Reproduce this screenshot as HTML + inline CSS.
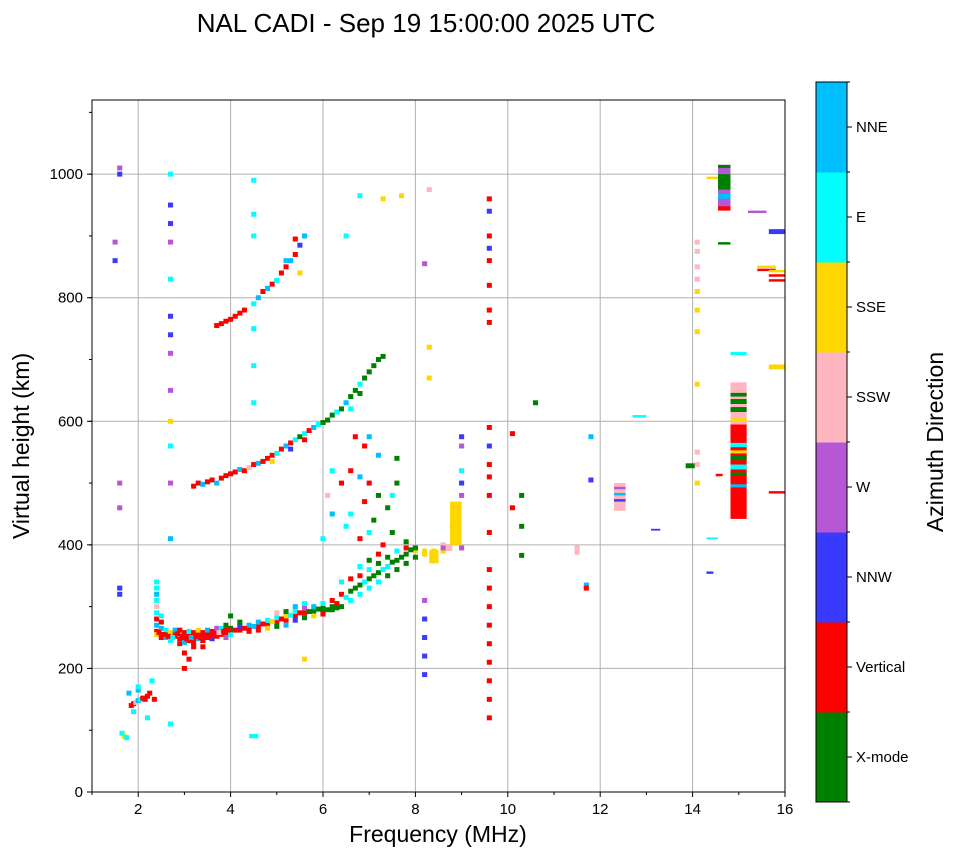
<!DOCTYPE html>
<html><head><meta charset="utf-8">
<style>
body{margin:0;background:#fff;}
svg text{font-family:"Liberation Sans",sans-serif;}
</style></head>
<body>
<svg id="chart" width="958" height="857" viewBox="0 0 958 857" xmlns="http://www.w3.org/2000/svg">
<text x="426" y="32" font-size="26" text-anchor="middle">NAL CADI - Sep 19 15:00:00 2025 UTC</text>
<g id="grid"></g>
<g id="marks"></g>
<rect x="92" y="100" width="693" height="692" fill="none" stroke="#000" stroke-width="1"/>
<g id="axes"></g>
<text x="438" y="842" font-size="23" text-anchor="middle">Frequency (MHz)</text>
<text transform="translate(29,446) rotate(-90)" font-size="23" text-anchor="middle">Virtual height (km)</text>
<g id="cbar"></g>
<text transform="translate(943,442) rotate(-90)" font-size="23" text-anchor="middle">Azimuth Direction</text>
</svg>
<script>
const dirLabels=["X-mode","Vertical","NNW","W","SSW","SSE","E","NNE"];
const dirColors=["#008000","#ff0000","#3a3aff","#b657d6","#ffb6c1","#ffd700","#00ffff","#00bfff"];
const xTicks=[2,4,6,8,10,12,14,16];
const yTicks=[0,200,400,600,800,1000];
// echo cells: frequency (MHz), height (km), direction index
const eF=[1.85,1.9,1.95,2.0,2.05,2.1,2.15,2.2,2.25,2.0,1.7,1.65,1.75,2.3,2.35,
2.4,2.4,2.4,2.4,2.4,2.4,2.4,2.4,2.4,2.4,2.5,2.5,2.5,2.5,2.6,2.6,2.6,2.7,2.7,2.7,2.8,2.8,2.8,2.9,2.9,2.9,2.9,
3.0,3.0,3.0,3.0,3.0,3.1,3.1,3.1,3.1,3.2,3.2,3.2,3.2,3.3,3.3,3.3,3.4,3.4,3.4,3.4,3.5,3.5,3.5,3.6,3.6,3.6,3.7,3.7,3.7,
3.8,3.8,3.8,3.9,3.9,3.9,3.9,4.0,4.0,4.0,4.0,4.2,4.2,4.2,4.4,4.4,4.4,4.6,4.6,4.6,4.8,4.8,4.8,5.0,5.0,5.0,5.0,
5.2,5.2,5.2,5.2,5.4,5.4,5.4,5.4,5.6,5.6,5.6,5.6,5.8,5.8,5.8,6.0,6.0,6.0,6.0,6.2,6.2,6.2,6.4,6.4,6.4,6.6,6.6,6.6,
6.8,6.8,6.8,6.8,7.0,7.0,7.0,7.0,7.2,7.2,7.2,7.2,7.4,7.4,7.4,7.6,7.6,7.6,7.8,7.8,7.8,8.0,8.0,8.0,8.2,8.2,8.4,8.4,8.4,
8.6,8.6,8.6,8.8,9.0,9.0,9.0,9.0,9.0,9.0,
3.2,3.3,3.4,3.5,3.6,3.7,3.8,3.9,4.0,4.1,4.2,4.3,4.4,4.5,4.6,4.7,4.8,4.9,5.0,5.1,5.2,5.3,5.4,5.5,5.6,5.7,5.8,5.9,
6.0,6.1,6.2,6.3,6.4,6.5,6.6,6.7,6.8,6.9,7.0,7.1,7.2,7.3,5.3,5.6,4.9,6.6,6.8,
3.7,3.8,3.9,4.0,4.1,4.2,4.3,4.5,4.6,4.7,4.8,4.9,5.0,5.1,5.2,5.3,5.4,5.5,5.6,5.4,5.2,5.5,
6.2,6.4,6.6,6.8,7.0,7.2,6.6,6.9,7.1,7.4,7.6,7.5,6.5,6.8,7.0,7.3,6.2,6.0,6.9,7.2,7.6,6.7,7.0,7.5,7.8,6.1,
1.6,1.6,1.6,1.6,1.6,1.6,1.5,1.5,2.7,2.7,2.7,2.7,2.7,2.7,2.7,2.7,2.7,2.7,2.7,2.7,2.7,2.7,
9.6,9.6,9.6,9.6,9.6,9.6,9.6,9.6,9.6,9.6,9.6,9.6,9.6,9.6,9.6,9.6,9.6,9.6,9.6,9.6,9.6,9.6,9.6,
14.1,14.1,14.1,14.1,14.1,14.1,14.1,14.1,14.1,14.1,14.1,
11.8,11.8,11.5,11.5,11.7,11.7,10.6,10.3,10.3,10.3,10.1,10.1,8.3,7.7,7.3,6.8,6.5,4.5,4.5,4.5,4.5,4.5,4.5,5.6,
8.2,8.2,8.2,8.2,8.2,8.2,8.3,8.3,1.9,2.0,1.8,2.2,
4.1,4.3,4.5,4.7,4.9,5.1,5.3,5.5,5.7,5.9,6.1,6.3,6.3,6.5,6.7,6.9,7.1,7.3,7.5,7.7,7.9,
2.45,2.55,2.65,2.75,2.85,2.95,3.05,3.15,3.25,3.35,3.45,3.55,3.65,3.75,3.85,3.95];
const eH=[140,143,145,148,150,152,150,155,160,165,90,95,88,180,150,
260,270,280,290,300,310,320,330,340,255,250,265,275,285,255,262,250,250,258,245,252,258,262,248,255,262,240,
250,258,242,225,200,252,245,260,215,250,258,242,235,255,248,262,250,258,245,235,255,262,250,255,260,248,258,265,252,
260,255,265,258,262,270,250,260,265,285,255,262,268,275,265,270,260,268,275,262,270,278,265,275,282,268,290,
278,285,292,270,285,292,278,300,290,298,282,305,292,300,285,292,298,305,288,295,300,310,300,320,340,310,325,345,
320,335,350,365,330,345,360,375,340,355,370,385,350,365,380,360,375,390,370,385,395,380,390,395,385,390,380,390,375,
390,400,395,430,395,480,500,520,560,575,
495,500,498,502,505,500,508,512,515,518,522,520,525,530,532,535,540,545,548,555,560,565,570,575,580,585,590,595,
598,602,610,615,620,630,640,650,660,670,680,690,700,705,555,570,535,620,645,
755,758,762,765,770,775,780,790,800,810,815,822,828,840,850,860,870,885,900,895,860,840,
520,500,520,510,500,480,450,470,440,460,500,420,430,410,420,400,450,410,560,545,540,575,575,480,405,480,
1010,1000,500,460,330,320,890,860,1000,950,920,890,830,770,740,710,650,600,560,500,410,110,
960,940,900,880,860,820,780,760,590,560,530,510,480,420,360,330,300,270,240,210,180,150,120,
890,875,850,830,810,780,745,660,550,530,500,
575,505,395,388,335,330,630,480,430,383,580,460,975,965,960,965,900,990,900,935,750,690,630,215,
310,280,250,220,190,855,720,670,130,170,160,120,
262,265,268,272,276,280,286,290,292,296,295,298,305,315,330,340,350,360,372,380,392,
258,255,252,250,256,252,248,250,252,250,254,252,256,258,260,262];
const eD=[1,1,4,7,6,1,1,1,1,7,5,6,6,6,1,
1,7,1,6,4,6,7,6,6,5,1,7,1,6,1,6,7,1,5,6,1,1,7,1,4,1,1,
1,1,7,1,1,1,1,6,1,1,1,1,1,1,7,5,1,1,1,1,1,7,1,1,1,2,1,3,1,
1,1,6,1,1,0,3,1,0,0,6,1,2,0,1,7,1,1,7,1,1,6,5,1,6,0,4,
1,5,0,7,1,6,2,7,1,3,0,6,0,7,5,0,0,6,1,0,0,1,0,1,6,6,0,1,
6,0,1,6,6,0,6,0,6,0,0,1,0,6,0,0,0,6,0,0,1,0,5,0,5,5,5,5,5,
5,4,3,5,3,3,2,6,3,2,
1,1,7,1,1,7,1,1,1,1,7,1,4,1,7,1,1,1,6,1,7,1,6,0,6,1,7,6,
0,0,0,6,0,7,0,0,6,0,0,0,0,0,2,1,5,6,0,
1,1,1,1,1,1,1,6,7,1,7,1,6,1,1,7,1,2,7,1,7,5,
6,1,1,7,1,0,6,1,0,0,0,0,6,1,6,1,7,6,1,7,0,1,7,6,0,4,
3,2,3,3,2,2,3,2,6,2,2,3,6,2,2,3,3,5,6,3,7,6,
1,2,1,2,1,1,1,1,1,2,1,1,1,1,1,1,1,1,1,1,1,1,1,
4,4,4,4,5,5,5,5,4,4,5,
7,2,4,4,7,1,0,0,0,0,1,1,4,5,5,6,6,6,6,6,6,6,6,5,
3,2,2,2,2,3,5,5,6,6,7,6,
1,1,7,1,5,1,6,1,0,0,0,0,1,6,0,6,0,6,0,0,0,
1,1,1,6,1,1,1,7,1,1,1,1,1,4,1,1];
// bands: fStart, fEnd, hStart, hEnd (MHz/km), direction
const bF0=[14.55,14.55,14.55,14.55,14.55,14.82,14.82,14.82,14.82,14.82,14.82,14.82,14.82,14.82,14.82,14.82,14.82,14.82,12.3,12.3,12.3,12.3,15.4,15.4,15.65,15.2,15.65,15.65,15.65,15.65,15.65,14.3,14.55,14.82,12.7,13.85,14.5,14.3,14.3,13.1,4.4,8.75,8.55,8.3];
const bF1=[14.82,14.82,14.82,14.82,14.82,15.17,15.17,15.17,15.17,15.17,15.17,15.17,15.17,15.17,15.17,15.17,15.17,15.17,12.55,12.55,12.55,12.55,15.8,15.8,16,15.6,16,16,16,16,16,14.55,14.82,15.17,13.0,14.05,14.65,14.55,14.45,13.3,4.6,9.0,8.8,8.5];
const bH0=[945,975,960,941,1010,442,595,640,628,615,600,558,548,537,522,512,502,493,455,470,480,490,848,843,903,937,684,483,834,826,841,992,886,707,606,524,511,409,353,423,87,400,390,370];
const bH1=[1015,1000,968,948,1015,595,663,646,636,623,605,565,553,545,530,517,507,498,500,474,484,494,852,847,911,941,692,487,838,830,845,996,890,712,610,532,515,412,357,426,94,470,400,392];
const bD=[3,0,7,1,0,1,4,0,0,0,5,6,5,0,6,0,1,7,4,2,7,3,5,1,2,3,5,1,1,1,5,5,0,6,6,0,1,6,2,2,6,5,4,5];

const NS="http://www.w3.org/2000/svg";
const X0=92,X1=785,Y0=792,Y1=100,FMIN=1,FMAX=16,HMIN=0,HMAX=1120;
const xS=f=>X0+(f-FMIN)/(FMAX-FMIN)*(X1-X0);
const yS=h=>Y0-(h-HMIN)/(HMAX-HMIN)*(Y0-Y1);
function mk(tag,attrs,parent){const e=document.createElementNS(NS,tag);for(const k in attrs)e.setAttribute(k,attrs[k]);parent.appendChild(e);return e;}
const grid=document.getElementById('grid'),marks=document.getElementById('marks'),axes=document.getElementById('axes'),cbar=document.getElementById('cbar');
xTicks.forEach(v=>{
 const l=mk('line',{x1:xS(v),x2:xS(v),y1:Y1,y2:Y0,stroke:'#b0b0b0','stroke-width':1},grid);
 
 
 mk('line',{x1:xS(v),x2:xS(v),y1:Y0,y2:Y0+5,stroke:'#000'},axes);
 const t=mk('text',{x:xS(v),y:Y0+22,'font-size':15,'text-anchor':'middle'},axes);
 t.textContent=v;
 
 
});
for(let v=1;v<=15;v+=2){mk('line',{x1:xS(v),x2:xS(v),y1:Y0,y2:Y0+3,stroke:'#000'},axes);}
yTicks.forEach(v=>{
 if(v>0){const l=mk('line',{x1:X0,x2:X1,y1:yS(v),y2:yS(v),stroke:'#b0b0b0','stroke-width':1},grid);
 
 }
 mk('line',{x1:X0-5,x2:X0,y1:yS(v),y2:yS(v),stroke:'#000'},axes);
 const t=mk('text',{x:X0-9,y:yS(v)+5,'font-size':15,'text-anchor':'end'},axes);
 t.textContent=v;
 
 
});
for(let v=100;v<=1100;v+=100){mk('line',{x1:X0-3,x2:X0,y1:yS(v),y2:yS(v),stroke:'#000'},axes);}
for(let i=0;i<bF0.length;i++){
 const r=mk('rect',{x:xS(bF0[i]),y:yS(bH1[i]),width:xS(bF1[i])-xS(bF0[i]),height:yS(bH0[i])-yS(bH1[i]),fill:dirColors[bD[i]]},marks);
 
 
}
const cw=xS(1.11)-xS(1),ch=yS(0)-yS(8);
for(let i=0;i<eF.length;i++){
 const r=mk('rect',{x:xS(eF[i])-cw/2,y:yS(eH[i])-ch/2,width:cw,height:ch,fill:dirColors[eD[i]]},marks);
 
 
}
// colorbar
const CX=816,CW=31,CT=82,CB=802,seg=(CB-CT)/dirLabels.length;
dirLabels.forEach((lab,i)=>{
 const y=CB-(i+1)*seg;
 const r=mk('rect',{x:CX,y:y,width:CW,height:seg+0.5,fill:dirColors[i]},cbar);
 
 
 mk('line',{x1:CX+CW,x2:CX+CW+5,y1:y+seg/2,y2:y+seg/2,stroke:'#000'},cbar);
 const t=mk('text',{x:CX+CW+9,y:y+seg/2+5,'font-size':15},cbar);
 t.textContent=lab;
 
 
});
for(let i=0;i<=dirLabels.length;i++){mk('line',{x1:CX+CW,x2:CX+CW+3,y1:CT+i*seg,y2:CT+i*seg,stroke:'#000'},cbar);}
mk('rect',{x:CX,y:CT,width:CW,height:CB-CT,fill:'none',stroke:'#000'},cbar);
</script>
</body></html>
